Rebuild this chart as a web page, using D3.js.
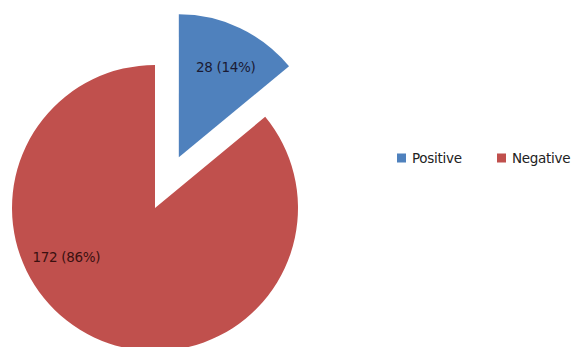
<!DOCTYPE html>
<html>
<head>
<meta charset="utf-8">
<script src="https://cdn.jsdelivr.net/npm/d3@7"></script>
<style>
  body { margin: 0; background: #fff; }
  text { font-family: "DejaVu Sans", sans-serif; }
</style>
</head>
<body>
<svg id="chart" width="579" height="347"></svg>
<script>
// data
var categories = ['Positive', 'Negative'];
var counts = [28, 172];
var colors = ['#4F81BD', '#C0504D'];

var svg = d3.select('#chart');
var cx = 155, cy = 208, r = 143;
var explode = 56; // positive slice pulled out

var total = d3.sum(counts);
var pie = d3.pie().sort(null).value(function(d){ return d; });
var arcs = pie(counts);
var arc = d3.arc().innerRadius(0).outerRadius(r);

var g = svg.append('g').attr('transform', 'translate(' + cx + ',' + cy + ')');

var slices = g.selectAll('g.slice')
		.data(arcs)
		.enter().append('g')
		.attr('class', 'slice')
		.attr('transform', function(d, i){
			if (i != 0) return null;
			var a = (d.startAngle + d.endAngle) / 2;
			return 'translate(' + (Math.sin(a) * explode) + ',' + (-Math.cos(a) * explode) + ')';
		});

slices.append('path')
		.attr('d', arc)
		.attr('fill', function(d, i){ return colors[i]; });

// label angle: positive near its middle, negative pushed toward lower left (best fit)
function labelAngle(d, i){
	return i == 0 ? (d.startAngle + d.endAngle) / 2 + 0.04 : d.startAngle + (d.endAngle - d.startAngle) * 0.615;
}

slices.append('text')
		.attr('x', function(d, i){ return Math.sin(labelAngle(d, i)) * r * 0.71; })
		.attr('y', function(d, i){ return -Math.cos(labelAngle(d, i)) * r * 0.71; })
		.attr('dy', '0.35em')
		.attr('text-anchor', 'middle')
		.attr('font-size', 13.5)
		.attr('letter-spacing', '-0.3')
		.attr('fill', function(d, i){ return i == 0 ? '#1a1a33' : '#3a1010'; })
		.text(function(d){
			return d.data + ' (' + Math.round(d.data / total * 100) + '%)';
		});

// legend
var legendX = [397, 497];
var legend = svg.append('g').attr('class', 'legend');
var items = legend.selectAll('g')
		.data(categories)
		.enter().append('g')
		.attr('transform', function(d, i){ return 'translate(' + legendX[i] + ',158)'; });
items.append('rect')
		.attr('x', 0).attr('y', -4.5)
		.attr('width', 9).attr('height', 9)
		.attr('fill', function(d, i){ return colors[i]; });
items.append('text')
		.attr('x', 15)
		.attr('dy', '0.35em')
		.attr('font-size', 13.5)
		.attr('letter-spacing', '-0.3')
		.attr('fill', '#222')
		.text(function(d){ return d; });
</script>
</body>
</html>
